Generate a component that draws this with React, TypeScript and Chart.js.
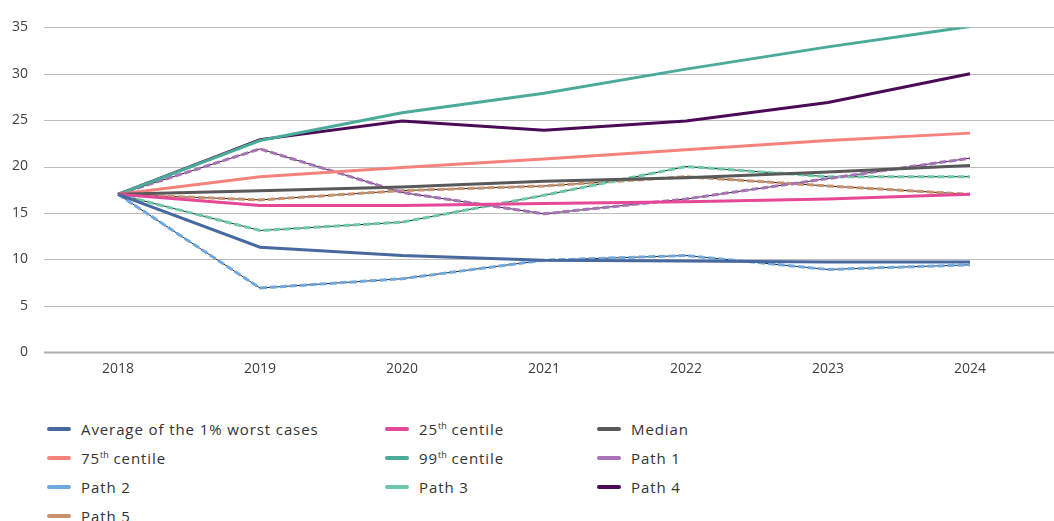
import React, { useEffect, useRef } from "react";
import { Chart, registerables } from "chart.js";

Chart.register(...registerables);

const years = ["2018", "2019", "2020", "2021", "2022", "2023", "2024"];
const yTicks = [0, 5, 10, 15, 20, 25, 30, 35];

const worst1 = [17, 11.3, 10.4, 9.9, 9.8, 9.7, 9.7];
const centile25 = [17, 15.8, 15.8, 16.0, 16.2, 16.5, 17.0];
const median = [17, 17.4, 17.8, 18.4, 18.8, 19.4, 20.1];
const centile75 = [17, 18.9, 19.9, 20.8, 21.8, 22.8, 23.6];
const centile99 = [17, 22.8, 25.8, 27.9, 30.5, 32.9, 35.1];
const path1 = [17, 21.9, 17.2, 14.9, 16.5, 18.7, 20.9];
const path2 = [17, 6.9, 7.9, 9.9, 10.4, 8.9, 9.4];
const path3 = [17, 13.1, 14.0, 16.9, 20.0, 18.9, 18.9];
const path4 = [17, 22.9, 24.9, 23.9, 24.9, 26.9, 30.0];
const path5 = [17, 16.4, 17.4, 17.9, 18.9, 17.9, 17.0];

type Series = { label: string; sup?: string; data: number[]; color: string; dashed: boolean };

const series: Series[] = [
  { label: "Average of the 1% worst cases", data: worst1, color: "#47699f", dashed: false },
  { label: "25", sup: "th", data: centile25, color: "#e64796", dashed: false },
  { label: "Median", data: median, color: "#595959", dashed: false },
  { label: "75", sup: "th", data: centile75, color: "#f4837c", dashed: false },
  { label: "99", sup: "th", data: centile99, color: "#4aac98", dashed: false },
  { label: "Path 1", data: path1, color: "#a872b7", dashed: true },
  { label: "Path 2", data: path2, color: "#6fa9de", dashed: true },
  { label: "Path 3", data: path3, color: "#6dcaa9", dashed: true },
  { label: "Path 4", data: path4, color: "#4b0a56", dashed: false },
  { label: "Path 5", data: path5, color: "#c8926c", dashed: true },
];

const FONT = "'Open Sans', sans-serif";

const gridPlugin = {
  id: "fullGrid",
  beforeDatasetsDraw(chart: any) {
    const ctx = chart.ctx;
    const ys = chart.scales.y;
    ctx.save();
    yTicks.forEach((v) => {
      const y = Math.round(ys.getPixelForValue(v)) + 0.5;
      ctx.beginPath();
      ctx.strokeStyle = v === 0 ? "#b0b0b0" : "#bdbdbd";
      ctx.lineWidth = v === 0 ? 2 : 1;
      ctx.moveTo(44, y);
      ctx.lineTo(chart.width, y);
      ctx.stroke();
    });
    ctx.restore();
  },
};

export default function App() {
  const ref = useRef<HTMLCanvasElement>(null);

  useEffect(() => {
    document.body.style.margin = "0";
    const datasets: any[] = [];
    series.forEach((s) => {
      datasets.push({
        label: s.sup ? s.label + s.sup + " centile" : s.label,
        data: s.data,
        borderColor: s.color,
        backgroundColor: s.color,
        borderWidth: 3,
        borderDash: s.dashed ? [7, 3] : [],
        pointRadius: 0,
        tension: 0,
        order: s.dashed ? 1 : 0,
      });
      if (s.dashed) {
        datasets.push({
          label: "",
          data: s.data,
          borderColor: "#262626",
          borderWidth: 1,
          pointRadius: 0,
          tension: 0,
          order: 5,
        });
      }
    });
    const chart = new Chart(ref.current!, {
      type: "line",
      data: { labels: years, datasets },
      plugins: [gridPlugin],
      options: {
        animation: false,
        responsive: false,
        maintainAspectRatio: false,
        layout: { padding: { top: 25, right: 13, left: 0, bottom: 0 } },
        plugins: { legend: { display: false }, tooltip: { enabled: false } },
        scales: {
          x: {
            offset: true,
            grid: { display: false },
            border: { display: false },
            ticks: { color: "#404040", font: { family: FONT, size: 14 }, padding: 1 },
            afterFit: (scale: any) => {
              scale.height = 40;
            },
          },
          y: {
            min: 0,
            max: 35,
            grid: { display: false, drawTicks: false },
            border: { display: false },
            ticks: {
              stepSize: 5,
              color: "#404040",
              font: { family: FONT, size: 14 },
              padding: 19,
            },
            afterFit: (scale: any) => {
              scale.width = 47;
            },
          },
        },
      },
    });
    return () => chart.destroy();
  }, []);

  const cols = [47, 385, 597];
  return (
    <div style={{ position: "relative", width: 1054, height: 521, fontFamily: FONT, overflow: "hidden" }}>
      <canvas ref={ref} width={1054} height={392} style={{ display: "block" }} />
      {series.map((s, i) => {
        const col = i % 3;
        const row = Math.floor(i / 3);
        return (
          <div
            key={i}
            style={{
              position: "absolute",
              left: cols[col],
              top: 430 + row * 29 - 12,
              height: 22,
              display: "flex",
              alignItems: "center",
              fontSize: 15,
              letterSpacing: "0.9px",
              color: "#333333",
              whiteSpace: "nowrap",
            }}
          >
            <span style={{ display: "inline-block", width: 24, height: 4, background: s.color, borderRadius: 2, marginRight: 10 }} />
            <span>
              {s.label}
              {s.sup ? (
                <>
                  <sup style={{ fontSize: 9, verticalAlign: "super", lineHeight: 0, letterSpacing: 0 }}>{s.sup}</sup> centile
                </>
              ) : null}
            </span>
          </div>
        );
      })}
    </div>
  );
}
